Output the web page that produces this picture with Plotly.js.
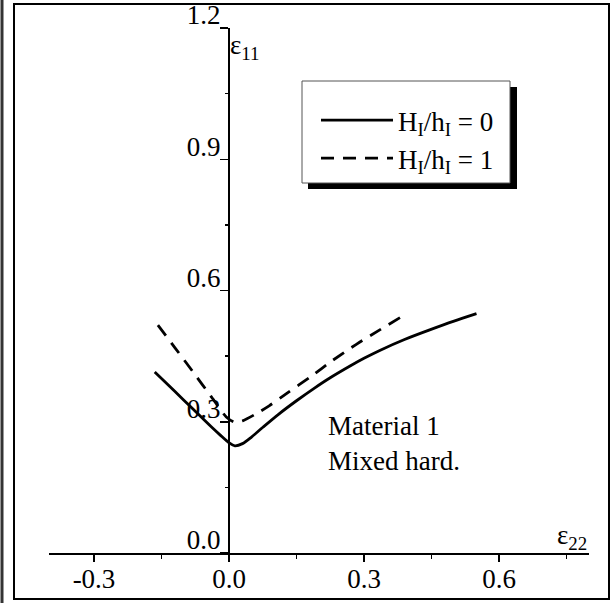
<!DOCTYPE html>
<html>
<head>
<meta charset="utf-8">
<script src="https://cdn.plot.ly/plotly-3.0.1.min.js"></script>
<style>
  body { margin: 0; background: #fff; }
  #plot { width: 613px; height: 603px; }
</style>
</head>
<body>
<div id="plot"></div>
<script>
// curve H_I/h_I = 0 (solid)
let e22_hard0 = [-0.165, -0.12, -0.08, -0.04, -0.02, 0.0, 0.013, 0.03, 0.05, 0.076, 0.11, 0.15, 0.19, 0.224, 0.27, 0.3, 0.335, 0.39, 0.446, 0.5, 0.55];
let e11_hard0 = [0.414, 0.369, 0.329, 0.289, 0.27, 0.252, 0.245, 0.25, 0.265, 0.288, 0.317, 0.348, 0.377, 0.4, 0.428, 0.445, 0.463, 0.488, 0.51, 0.53, 0.547];

// curve H_I/h_I = 1 (dashed)
let e22_hard1 = [-0.158, -0.12, -0.08, -0.04, -0.006, 0.012, 0.03, 0.06, 0.09, 0.13, 0.18, 0.23, 0.283, 0.335, 0.38];
let e11_hard1 = [0.521, 0.469, 0.414, 0.358, 0.311, 0.299, 0.302, 0.318, 0.337, 0.366, 0.402, 0.44, 0.477, 0.51, 0.538];

let names = ['H<sub>I</sub>/h<sub>I</sub> = 0', 'H<sub>I</sub>/h<sub>I</sub> = 1'];

let xTickVals = [-0.3, 0.0, 0.3, 0.6];
let xTickText = ['-0.3', '0.0', '0.3', '0.6'];
let yTickVals = [0.0, 0.3, 0.6, 0.9, 1.2];
let yTickText = ['0.0', '0.3', '0.6', '0.9', '1.2'];

// pixel -> paper helpers (plot area 49..589 x 28..553)
function px(x) { return (x - 49) / 540; }
function py(y) { return (553 - y) / 525; }

const serif = 'Liberation Serif, Times New Roman, serif';

let data = [
  {
    x: e22_hard0, y: e11_hard0,
    type: 'scatter', mode: 'lines', name: names[0],
    line: { color: '#000', width: 2.8, dash: 'solid', shape: 'spline', smoothing: 0.8 }
  },
  {
    x: e22_hard1, y: e11_hard1,
    type: 'scatter', mode: 'lines', name: names[1],
    line: { color: '#000', width: 2.8, dash: '13px,9px', shape: 'spline', smoothing: 0.6 }
  }
];

let layout = {
  width: 613, height: 603,
  margin: { l: 49, r: 24, t: 28, b: 50 },
  paper_bgcolor: '#fff', plot_bgcolor: '#fff',
  font: { family: serif, size: 27, color: '#000' },
  showlegend: true,
  legend: {
    x: px(316), y: py(96), xanchor: 'left', yanchor: 'top',
    bgcolor: 'rgba(0,0,0,0)', borderwidth: 0,
    font: { family: serif, size: 27, color: '#000' },
    itemwidth: 72
  },
  xaxis: {
    range: [-0.4, 0.8],
    showgrid: false, zeroline: false,
    showline: true, linecolor: '#000', linewidth: 2,
    ticks: 'outside', ticklen: 7, tickwidth: 1.5, tickcolor: '#000',
    tickvals: xTickVals, ticktext: xTickText,
    ticklabelstandoff: -6,
    minor: { dtick: 0.15, tick0: 0, ticks: 'outside', ticklen: 4, tickwidth: 1.5, tickcolor: '#000' },
    tickfont: { family: serif, size: 27, color: '#000' }
  },
  yaxis: {
    range: [0, 1.2],
    anchor: 'free', position: px(229),
    showgrid: false, zeroline: false,
    showline: true, linecolor: '#000', linewidth: 2,
    ticks: 'outside', ticklen: 8, tickwidth: 1.5, tickcolor: '#000',
    tickvals: yTickVals, ticktext: yTickText,
    ticklabelshift: -13, ticklabelstandoff: -6,
    minor: { dtick: 0.15, tick0: 0, ticks: 'outside', ticklen: 3, tickwidth: 1.5, tickcolor: '#000' },
    tickfont: { family: serif, size: 27, color: '#000' }
  },
  shapes: [
    // outer frame
    { type: 'rect', xref: 'paper', yref: 'paper', x0: px(14), x1: px(609), y0: py(599), y1: py(4),
      line: { color: '#000', width: 2 }, fillcolor: 'rgba(0,0,0,0)' },
    { type: 'line', xref: 'paper', yref: 'paper', x0: px(2), x1: px(2), y0: py(603), y1: py(0),
      line: { color: '#333', width: 3 } },
    // legend shadow + box
    { type: 'rect', xref: 'paper', yref: 'paper', x0: px(308), x1: px(517), y0: py(189), y1: py(87),
      line: { width: 0 }, fillcolor: '#000' },
    { type: 'rect', xref: 'paper', yref: 'paper', x0: px(302), x1: px(510), y0: py(183), y1: py(81),
      line: { color: '#555', width: 1 }, fillcolor: '#fff' }
  ],
  annotations: [
    { x: 0.215, y: 0.25, xref: 'x', yref: 'y', text: 'Material 1<br>Mixed hard.',
      showarrow: false, xanchor: 'left', yanchor: 'middle', align: 'left',
      font: { family: serif, size: 27, color: '#000' } },
    { x: 0, y: 1.2, xref: 'x', yref: 'y', text: '\u03b5<sub>11</sub>',
      showarrow: false, xanchor: 'left', yanchor: 'top', xshift: -1,
      font: { family: serif, size: 27, color: '#000' } },
    { x: 0.8, y: 0, xref: 'x', yref: 'y', text: '\u03b5<sub>22</sub>',
      showarrow: false, xanchor: 'right', yanchor: 'bottom', yshift: -3,
      font: { family: serif, size: 27, color: '#000' } }
  ]
};

Plotly.newPlot('plot', data, layout, { staticPlot: true });
</script>
</body>
</html>
